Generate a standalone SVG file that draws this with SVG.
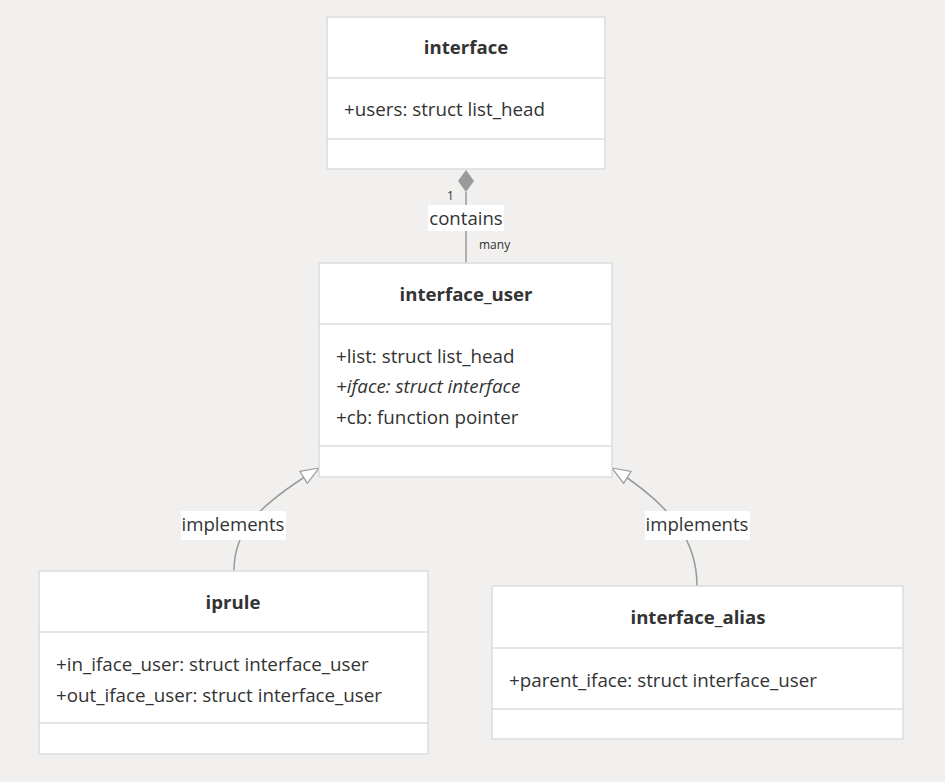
<svg xmlns="http://www.w3.org/2000/svg" width="945" height="782" viewBox="0 0 945 782">
<style>
.box{fill:#ffffff;stroke:#dcdcdc;stroke-width:1.5}
.div{stroke:#dcdcdc;stroke-width:1.5}
.title{font-family:"Open Sans","Noto Sans",sans-serif;font-weight:bold;font-size:18.6px;fill:#333;text-anchor:middle}
.attr{font-family:"Open Sans","Noto Sans",sans-serif;font-size:18.8px;fill:#333}
.ital{font-style:italic}
.edge{fill:none;stroke:#9a9a9a;stroke-width:1.5}
.lblbg{fill:#ffffff}
.lbl{font-family:"Open Sans","Noto Sans",sans-serif;font-size:18.6px;fill:#333;text-anchor:middle}
.small{font-family:"Open Sans","Noto Sans",sans-serif;font-size:12px;fill:#333}
</style>
<defs>
<marker id="tri" markerWidth="20" markerHeight="16" refX="19" refY="8" orient="auto" markerUnits="userSpaceOnUse">
<path d="M1,1 L19,8 L1,15 Z" fill="#ffffff" stroke="#9a9a9a" stroke-width="1.2"/>
</marker>
</defs>
<rect width="945" height="782" fill="#f1f0ee"/>
<g id="connectors">
<g id="e-contains">
<path class="edge" d="M466,192 L466,263"/>
<path d="M466,170 L474,181 L466,192 L458,181 Z" fill="#9a9a9a"/>
<rect class="lblbg" x="428" y="205" width="76" height="26"/>
<text class="lbl" x="466" y="225">contains</text>
<text class="small" x="447" y="200">1</text>
<text class="small" x="479" y="249">many</text>
</g>
<g id="e-iprule">
<path class="edge" d="M234,571 C234,535 250,510 319,468" marker-end="url(#tri)"/>
<rect class="lblbg" x="181" y="511" width="105" height="29"/>
<text class="lbl" x="233" y="531">implements</text>
</g>
<g id="e-alias">
<path class="edge" d="M697,586 C697,548 680,510 612,468" marker-end="url(#tri)"/>
<rect class="lblbg" x="645" y="511" width="105" height="29"/>
<text class="lbl" x="697" y="531">implements</text>
</g>
</g>
<g id="interface">
<rect class="box" x="327" y="17" width="278" height="152"/>
<line class="div" x1="327" y1="78" x2="605" y2="78"/>
<line class="div" x1="327" y1="139" x2="605" y2="139"/>
<text class="title" x="466" y="54">interface</text>
<text class="attr" x="344" y="116">+users: struct list_head</text>
</g>
<g id="interface_user">
<rect class="box" x="319" y="263" width="293" height="214"/>
<line class="div" x1="319" y1="324" x2="612" y2="324"/>
<line class="div" x1="319" y1="446" x2="612" y2="446"/>
<text class="title" x="466" y="301">interface_user</text>
<text class="attr" x="336" y="363">+list: struct list_head</text>
<text class="attr ital" x="336" y="393">+iface: struct interface</text>
<text class="attr" x="336" y="424">+cb: function pointer</text>
</g>
<g id="iprule">
<rect class="box" x="39" y="571" width="389" height="183"/>
<line class="div" x1="39" y1="632" x2="428" y2="632"/>
<line class="div" x1="39" y1="723" x2="428" y2="723"/>
<text class="title" x="233" y="609">iprule</text>
<text class="attr" x="56" y="671">+in_iface_user: struct interface_user</text>
<text class="attr" x="56" y="702">+out_iface_user: struct interface_user</text>
</g>
<g id="interface_alias">
<rect class="box" x="492" y="586" width="411" height="153"/>
<line class="div" x1="492" y1="648" x2="903" y2="648"/>
<line class="div" x1="492" y1="709" x2="903" y2="709"/>
<text class="title" x="698" y="624">interface_alias</text>
<text class="attr" x="509" y="687">+parent_iface: struct interface_user</text>
</g>
</svg>
